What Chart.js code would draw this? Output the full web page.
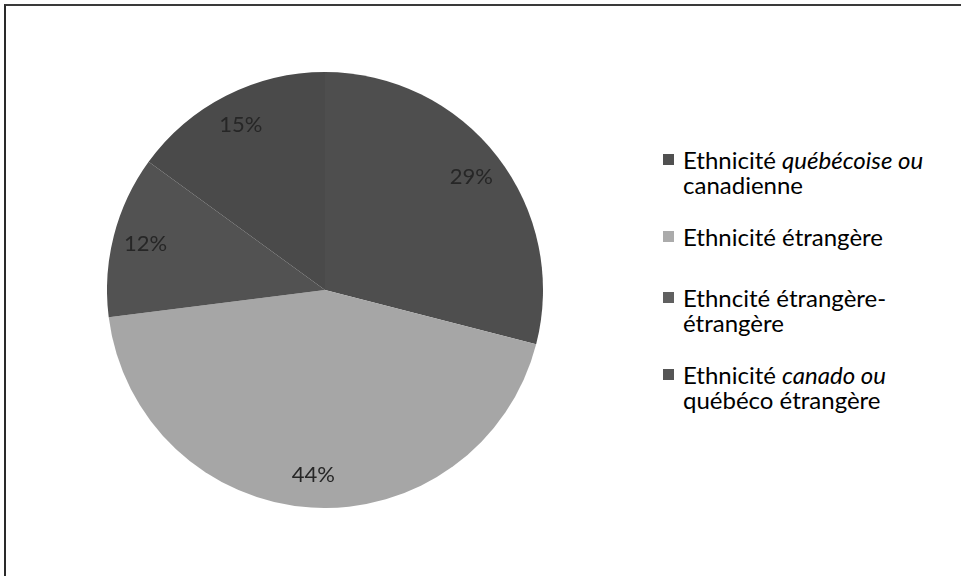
<!DOCTYPE html>
<html>
<head>
<meta charset="utf-8">
<script src="https://cdn.jsdelivr.net/npm/chart.js@4.4.0/dist/chart.umd.min.js"></script>
<style>
  html, body { margin: 0; padding: 0; background: #fff; }
  #frame {
    position: absolute; left: 4px; top: 4px; width: 957px; height: 572px;
    border-top: 2px solid #3a3a3a; border-left: 2px solid #2a2a2a;
  }
  #pieBox { position: absolute; left: 107px; top: 72px; width: 436px; height: 436px; }
  #legend {
    position: absolute; left: 663px; top: 147px; width: 280px;
    font-family: Lato, "Open Sans", sans-serif; font-size: 24px; color: #000;
    line-height: 25px;
  }
  .item { position: relative; padding-left: 20px; }
  .box { position: absolute; left: 0; top: 7px; width: 11px; height: 11px; }
</style>
</head>
<body>
<div id="frame"></div>
<div id="pieBox"><canvas id="pie"></canvas></div>
<div id="legend"></div>
<script>
// ---- Données ----
const labels = [
  'Ethnicité québécoise ou canadienne',
  'Ethnicité étrangère',
  'Ethncité étrangère-étrangère',
  'Ethnicité canado ou québéco étrangère'
];
const values = [29, 44, 12, 15];
const sliceColors  = ['#4e4e4e', '#a6a6a6', '#525252', '#4a4a4a'];
const legendColors = ['#505050', '#ababab', '#606060', '#555555'];
const legendGaps   = [0, 27, 36, 27]; // espace avant chaque entrée
const italicBits   = ['québécoise ou', 'canado ou'];

// ---- Étiquettes % à l'intérieur des parts ----
const pctLabels = {
  id: 'pctLabels',
  afterDatasetsDraw(chart) {
    const ctx = chart.ctx;
    const meta = chart.getDatasetMeta(0);
    ctx.save();
    ctx.font = '22px Lato, "Open Sans", sans-serif';
    ctx.fillStyle = '#262626';
    ctx.textAlign = 'center';
    ctx.textBaseline = 'middle';
    meta.data.forEach((arc, i) => {
      const mid = (arc.startAngle + arc.endAngle) / 2;
      const r = arc.outerRadius * 0.85;
      ctx.fillText(values[i] + '%', arc.x + Math.cos(mid) * r, arc.y + Math.sin(mid) * r);
    });
    ctx.restore();
  }
};

new Chart(document.getElementById('pie'), {
  type: 'pie',
  data: {
    labels: labels,
    datasets: [{
      data: values,
      backgroundColor: sliceColors,
      borderWidth: 0
    }]
  },
  options: {
    responsive: true,
    maintainAspectRatio: false,
    animation: false,
    layout: { padding: 0 },
    plugins: { legend: { display: false }, tooltip: { enabled: false } }
  },
  plugins: [pctLabels]
});

// ---- Légende HTML ----
const legend = document.getElementById('legend');
labels.forEach((lab, i) => {
  const it = document.createElement('div');
  it.className = 'item';
  it.style.marginTop = legendGaps[i] + 'px';
  const b = document.createElement('span');
  b.className = 'box';
  b.style.background = legendColors[i];
  it.appendChild(b);
  const bit = italicBits.find(s => lab.includes(s));
  if (bit) {
    const k = lab.indexOf(bit);
    it.appendChild(document.createTextNode(lab.slice(0, k)));
    const em = document.createElement('i');
    em.textContent = bit;
    it.appendChild(em);
    it.appendChild(document.createTextNode(lab.slice(k + bit.length)));
  } else {
    it.appendChild(document.createTextNode(lab));
  }
  legend.appendChild(it);
});
</script>
</body>
</html>
